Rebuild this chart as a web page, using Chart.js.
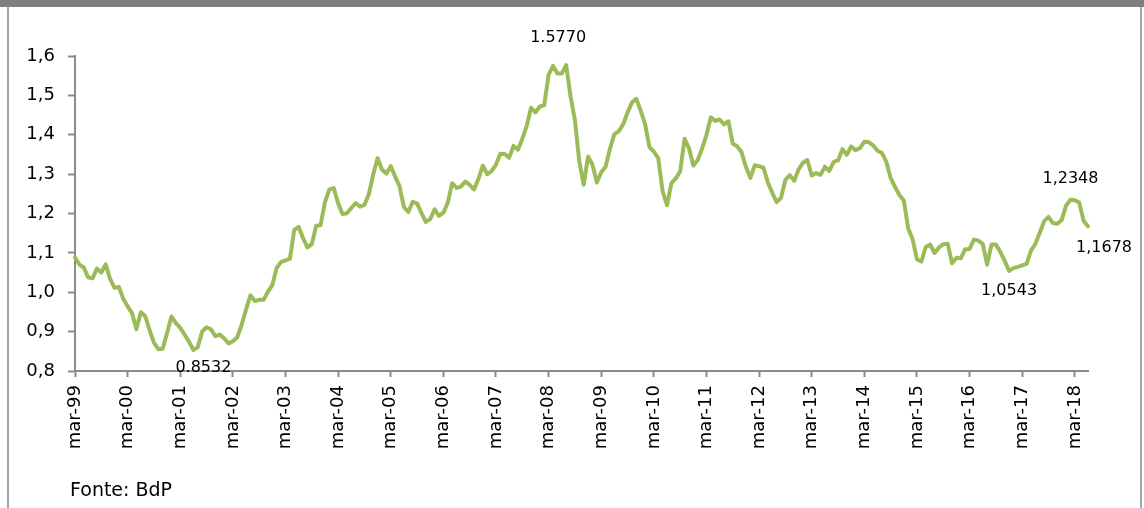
<!DOCTYPE html>
<html>
<head>
<meta charset="utf-8">
<script src="https://cdn.jsdelivr.net/npm/chart.js@4.4.1/dist/chart.umd.min.js"></script>
<style>
  body { margin: 0; background: #fff; }
  #topbar { position: absolute; left: 0; top: 0; width: 1144px; height: 7px; background: #7f7f7f; }
  #leftline { position: absolute; left: 7px; top: 7px; width: 2px; height: 501px; background: #a6a6a6; }
  #rightline { position: absolute; left: 1140px; top: 7px; width: 2px; height: 501px; background: #a6a6a6; }
  #wrap { position: absolute; left: 0; top: 0; width: 1144px; height: 508px; }
  #fonte { position: absolute; left: 70px; top: 478px; font: 19px "DejaVu Sans", sans-serif; color: #000; }
</style>
</head>
<body>
<div id="topbar"></div>
<div id="leftline"></div>
<div id="rightline"></div>
<div id="wrap"><canvas id="euroChart"></canvas></div>
<div id="fonte">Fonte: BdP</div>
<script>
// EUR/USD, médias mensais (mar-99 a jun-18)
const monthNames = ['jan', 'fev', 'mar', 'abr', 'mai', 'jun', 'jul', 'ago', 'set', 'out', 'nov', 'dez'];
const startYear = 1999, startMonth = 2, endYear = 2018, endMonth = 5;

const rate1999 = [1.0883, 1.0704, 1.0628, 1.0378, 1.0353, 1.0604, 1.0501, 1.0706, 1.0338, 1.0110];
const rate2000 = [1.0137, 0.9834, 0.9643, 0.9470, 0.9060, 0.9492, 0.9397, 0.9041, 0.8721, 0.8552, 0.8564, 0.8973];
const rate2001 = [0.9383, 0.9217, 0.9095, 0.8920, 0.8742, 0.8532, 0.8607, 0.9005, 0.9111, 0.9059, 0.8883, 0.8924];
const rate2002 = [0.8833, 0.8700, 0.8758, 0.8858, 0.9170, 0.9554, 0.9922, 0.9778, 0.9808, 0.9811, 1.0014, 1.0183];
const rate2003 = [1.0622, 1.0773, 1.0807, 1.0848, 1.1582, 1.1663, 1.1372, 1.1139, 1.1222, 1.1692, 1.1702, 1.2286];
const rate2004 = [1.2613, 1.2646, 1.2262, 1.1985, 1.2007, 1.2138, 1.2266, 1.2176, 1.2218, 1.2490, 1.2991, 1.3408];
const rate2005 = [1.3119, 1.3014, 1.3201, 1.2938, 1.2694, 1.2165, 1.2037, 1.2292, 1.2256, 1.2015, 1.1786, 1.1856];
const rate2006 = [1.2103, 1.1938, 1.2020, 1.2271, 1.2770, 1.2650, 1.2684, 1.2811, 1.2727, 1.2611, 1.2881, 1.3213];
const rate2007 = [1.2999, 1.3074, 1.3242, 1.3516, 1.3511, 1.3419, 1.3716, 1.3622, 1.3896, 1.4227, 1.4684, 1.4570];
const rate2008 = [1.4718, 1.4748, 1.5527, 1.5751, 1.5557, 1.5553, 1.5770, 1.4975, 1.4370, 1.3322, 1.2732, 1.3449];
const rate2009 = [1.3239, 1.2785, 1.3050, 1.3190, 1.3650, 1.4016, 1.4088, 1.4268, 1.4562, 1.4816, 1.4914, 1.4614];
const rate2010 = [1.4272, 1.3686, 1.3569, 1.3406, 1.2565, 1.2209, 1.2770, 1.2894, 1.3067, 1.3898, 1.3661, 1.3220];
const rate2011 = [1.3360, 1.3649, 1.3999, 1.4442, 1.4349, 1.4388, 1.4264, 1.4343, 1.3770, 1.3706, 1.3556, 1.3179];
const rate2012 = [1.2905, 1.3224, 1.3201, 1.3162, 1.2789, 1.2526, 1.2288, 1.2400, 1.2856, 1.2974, 1.2828, 1.3119];
const rate2013 = [1.3288, 1.3359, 1.2964, 1.3026, 1.2982, 1.3189, 1.3080, 1.3310, 1.3348, 1.3635, 1.3493, 1.3704];
const rate2014 = [1.3610, 1.3659, 1.3823, 1.3813, 1.3732, 1.3592, 1.3539, 1.3316, 1.2901, 1.2673, 1.2472, 1.2331];
const rate2015 = [1.1621, 1.1350, 1.0838, 1.0779, 1.1150, 1.1213, 1.0996, 1.1139, 1.1221, 1.1235, 1.0736, 1.0877];
const rate2016 = [1.0860, 1.1093, 1.1100, 1.1339, 1.1311, 1.1229, 1.0700, 1.1212, 1.1212, 1.1026, 1.0799, 1.0543];
const rate2017 = [1.0614, 1.0643, 1.0685, 1.0723, 1.1058, 1.1229, 1.1511, 1.1807, 1.1915, 1.1756, 1.1738, 1.1836];
const rate2018 = [1.2200, 1.2348, 1.2336, 1.2276, 1.1812, 1.1678];

const yTicks = [0.8, 0.9, 1.0, 1.1, 1.2, 1.3, 1.4, 1.5, 1.6];

// rótulos destacados: [categoria, texto, desvio x, desvio y]
const callouts = [
  ['jul-08', '1.5770', -8, -27],
  ['jun-01', '0.8532', 10, 18],
  ['fev-18', '1,2348', 0, -21],
  ['jun-18', '1,1678', 16, 22],
  ['dez-16', '1,0543', 0, 20]
];

const rates = [].concat(rate1999, rate2000, rate2001, rate2002, rate2003, rate2004, rate2005,
  rate2006, rate2007, rate2008, rate2009, rate2010, rate2011, rate2012, rate2013, rate2014,
  rate2015, rate2016, rate2017, rate2018);

const months = [];
for (let y = startYear; y <= endYear; y++) {
  for (let m = 0; m < 12; m++) {
    if (y === startYear && m < startMonth) continue;
    if (y === endYear && m > endMonth) continue;
    months.push(monthNames[m] + '-' + String(y).slice(2));
  }
}

const fontFamily = '"DejaVu Sans", sans-serif';
const axisColor = '#8c8c8c';

const calloutPlugin = {
  id: 'callouts',
  afterDatasetsDraw(chart) {
    const ctx = chart.ctx;
    const xs = chart.scales.x, ys = chart.scales.y;
    ctx.save();
    ctx.font = '16px ' + fontFamily;
    ctx.fillStyle = '#000';
    ctx.textAlign = 'center';
    ctx.textBaseline = 'middle';
    callouts.forEach(c => {
      const i = months.indexOf(c[0]);
      const x = xs.getPixelForValue(i);
      const y = ys.getPixelForValue(rates[i]);
      ctx.fillText(c[1], x + c[2], y + c[3]);
    });
    ctx.restore();
  }
};

const config = {
  type: 'line',
  data: {
    labels: months,
    datasets: [{
      data: rates,
      borderColor: '#9bbb59',
      borderWidth: 4,
      pointRadius: 0,
      tension: 0,
      borderJoinStyle: 'round',
      borderCapStyle: 'round',
      fill: false
    }]
  },
  options: {
    responsive: true,
    maintainAspectRatio: false,
    animation: false,
    devicePixelRatio: 1,
    layout: { padding: { top: 56, right: 56, bottom: 37, left: 0 } },
    plugins: {
      legend: { display: false },
      tooltip: { enabled: false }
    },
    scales: {
      x: {
        type: 'category',
        offset: false,
        afterBuildTicks: scale => {
          scale.ticks = scale.ticks.filter(t => months[t.value].startsWith('mar-'));
        },
        afterFit: scale => { scale.height = 100; },
        grid: {
          drawOnChartArea: false,
          drawTicks: true,
          tickLength: 6,
          tickColor: axisColor,
          tickWidth: 2
        },
        border: { color: axisColor, width: 2 },
        ticks: {
          autoSkip: false,
          maxRotation: 90,
          minRotation: 90,
          padding: 8,
          color: '#000',
          font: { family: fontFamily, size: 18 },
          callback: function (value) { return this.getLabelForValue(value); }
        }
      },
      y: {
        min: 0.8,
        max: 1.6,
        afterFit: scale => { scale.width = 75; },
        afterBuildTicks: scale => {
          scale.ticks = yTicks.map(v => ({ value: v }));
        },
        grid: {
          drawOnChartArea: false,
          drawTicks: true,
          tickLength: 7,
          tickColor: axisColor,
          tickWidth: 2
        },
        border: { color: axisColor, width: 2 },
        ticks: {
          padding: 13,
          color: '#000',
          font: { family: fontFamily, size: 18 },
          callback: v => v.toFixed(1).replace('.', ',')
        }
      }
    }
  },
  plugins: [calloutPlugin]
};

const euroChart = new Chart(document.getElementById('euroChart'), config);
</script>
</body>
</html>
